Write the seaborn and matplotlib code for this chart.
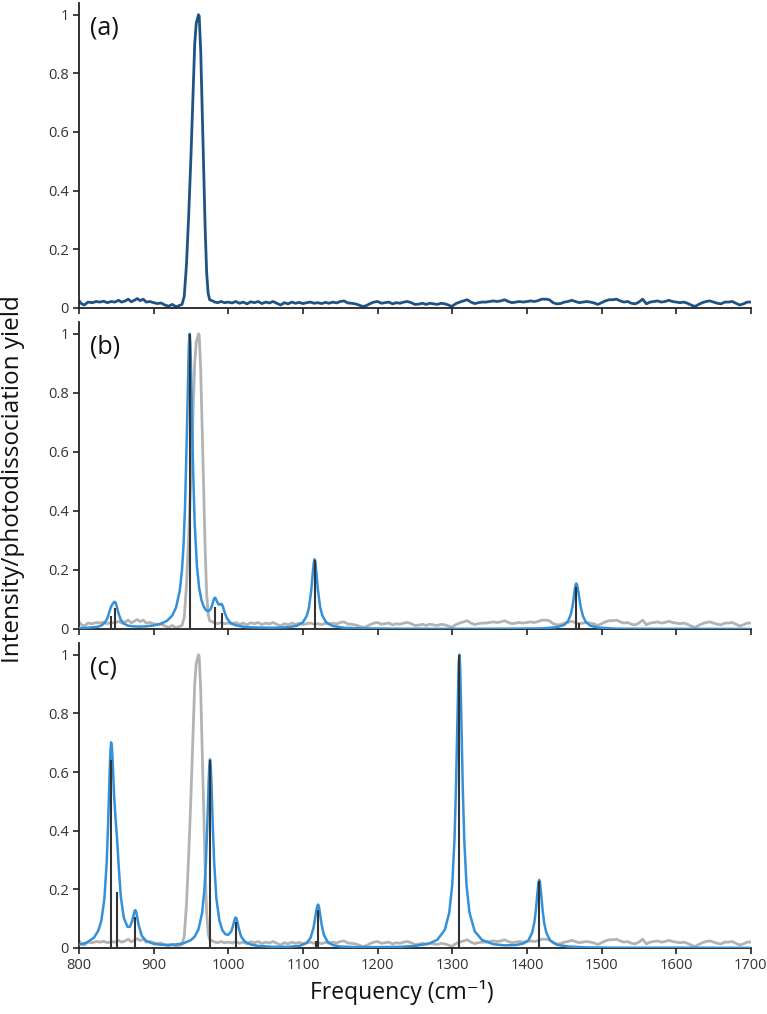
import numpy as np
import pandas as pd
import matplotlib
matplotlib.use("Agg")
import matplotlib.pyplot as plt
import seaborn as sns

sns.set_style("ticks")
plt.rcParams['font.family'] = ['Open Sans', 'DejaVu Sans']

exp_freq = [800, 803, 807, 812, 818, 823, 828, 833, 838, 843, 848, 853, 857, 862, 866, 870, 874, 878, 882, 886,
            890, 895, 900, 905, 910, 915, 920, 925, 930, 934, 938, 941, 944, 947, 950, 953, 955, 957, 958, 960,
            961, 963, 965, 967, 969, 971, 973, 975, 978, 982, 986, 990, 995, 1000, 1005, 1010, 1015, 1020, 1025, 1030,
            1035, 1040, 1045, 1050, 1055, 1060, 1065, 1070, 1075, 1080, 1085, 1090, 1095, 1100, 1105, 1110, 1115, 1120, 1125, 1130,
            1135, 1140, 1145, 1150, 1155, 1160, 1165, 1170, 1175, 1180, 1185, 1190, 1195, 1200, 1205, 1210, 1215, 1220, 1225, 1230,
            1235, 1240, 1245, 1250, 1255, 1260, 1265, 1270, 1275, 1280, 1285, 1290, 1295, 1299, 1305, 1310, 1315, 1320, 1325, 1330,
            1335, 1340, 1345, 1350, 1355, 1360, 1365, 1370, 1375, 1380, 1385, 1390, 1395, 1400, 1405, 1410, 1415, 1420, 1425, 1430,
            1435, 1440, 1445, 1450, 1455, 1460, 1465, 1470, 1475, 1480, 1485, 1490, 1495, 1500, 1505, 1510, 1515, 1520, 1525, 1530,
            1535, 1540, 1545, 1550, 1555, 1560, 1565, 1570, 1575, 1580, 1585, 1590, 1595, 1600, 1605, 1610, 1615, 1620, 1625, 1630,
            1635, 1640, 1645, 1650, 1655, 1660, 1665, 1670, 1675, 1680, 1685, 1690, 1695, 1700]
exp_int = [0.025, 0.015, 0.010, 0.020, 0.018, 0.022, 0.020, 0.023, 0.018, 0.022, 0.020, 0.026, 0.020, 0.024, 0.030, 0.021, 0.026, 0.032, 0.025, 0.030,
           0.020, 0.022, 0.018, 0.015, 0.017, 0.010, 0.006, 0.012, 0.004, 0.008, 0.012, 0.040, 0.150, 0.320, 0.520, 0.750, 0.900, 0.970, 0.980, 1.000,
           0.995, 0.880, 0.680, 0.470, 0.270, 0.120, 0.050, 0.028, 0.025, 0.020, 0.018, 0.022, 0.018, 0.020, 0.017, 0.022, 0.016, 0.020, 0.014, 0.021,
           0.018, 0.022, 0.015, 0.020, 0.017, 0.022, 0.016, 0.010, 0.018, 0.014, 0.020, 0.016, 0.019, 0.015, 0.018, 0.020, 0.016, 0.018, 0.015, 0.019,
           0.016, 0.020, 0.017, 0.022, 0.024, 0.017, 0.016, 0.014, 0.010, 0.005, 0.008, 0.015, 0.020, 0.022, 0.016, 0.018, 0.020, 0.014, 0.018, 0.016,
           0.020, 0.022, 0.018, 0.012, 0.013, 0.016, 0.012, 0.016, 0.014, 0.012, 0.016, 0.014, 0.010, 0.005, 0.015, 0.020, 0.024, 0.028, 0.020, 0.015,
           0.018, 0.020, 0.020, 0.022, 0.024, 0.022, 0.024, 0.028, 0.022, 0.018, 0.020, 0.022, 0.020, 0.022, 0.024, 0.022, 0.025, 0.030, 0.030, 0.028,
           0.018, 0.014, 0.015, 0.020, 0.022, 0.026, 0.022, 0.018, 0.020, 0.022, 0.020, 0.017, 0.012, 0.018, 0.024, 0.028, 0.028, 0.030, 0.024, 0.020,
           0.022, 0.016, 0.014, 0.020, 0.030, 0.014, 0.020, 0.022, 0.024, 0.020, 0.022, 0.026, 0.022, 0.020, 0.018, 0.020, 0.016, 0.010, 0.005, 0.012,
           0.018, 0.022, 0.024, 0.020, 0.016, 0.014, 0.020, 0.020, 0.022, 0.016, 0.010, 0.014, 0.020, 0.020]

# (b) computed spectrum: sticks and broadened envelope
b_stick_freq = [843, 848.7, 948.2, 982, 991.5, 1115.6, 1466, 1470]
b_stick_int = [0.044, 0.07, 1.0, 0.073, 0.054, 0.235, 0.142, 0.02]
b_freq = [800, 810, 820, 826, 830, 834, 837, 839, 841, 843, 845, 847.3, 849, 851, 853, 856, 860, 866, 873, 880,
          890, 900, 910, 918, 925, 930, 935, 938, 940, 942, 944, 945.5, 946.5, 947.2, 948.2, 949.2, 950, 951, 953, 955,
          958, 961, 964, 967, 970, 973, 976, 978, 980, 981, 982, 983, 985, 987, 989, 990.5, 991.5, 993, 995, 998,
          1002, 1008, 1015, 1025, 1040, 1060, 1080, 1092, 1100, 1105, 1108, 1111, 1113, 1114.6, 1115.6, 1116.6, 1118, 1120, 1123, 1126,
          1131, 1140, 1155, 1180, 1220, 1300, 1380, 1420, 1440, 1450, 1455, 1459, 1461.5, 1463.5, 1465, 1466, 1467, 1468.5, 1470, 1472,
          1475, 1479, 1485, 1495, 1520, 1600, 1700]
b_int = [0.003, 0.004, 0.006, 0.008, 0.012, 0.020, 0.031, 0.044, 0.061, 0.076, 0.085, 0.092, 0.090, 0.073, 0.052, 0.031, 0.018, 0.011, 0.009, 0.008,
         0.009, 0.012, 0.018, 0.028, 0.046, 0.073, 0.130, 0.201, 0.282, 0.411, 0.611, 0.775, 0.897, 0.963, 1.000, 0.965, 0.888, 0.764, 0.523, 0.355,
         0.212, 0.138, 0.098, 0.076, 0.064, 0.060, 0.066, 0.078, 0.096, 0.103, 0.106, 0.104, 0.092, 0.083, 0.083, 0.085, 0.083, 0.074, 0.057, 0.037,
         0.023, 0.014, 0.010, 0.006, 0.005, 0.004, 0.006, 0.011, 0.023, 0.044, 0.072, 0.128, 0.186, 0.227, 0.236, 0.227, 0.191, 0.133, 0.074, 0.045,
         0.023, 0.010, 0.004, 0.002, 0.001, 0.0005, 0.001, 0.002, 0.006, 0.014, 0.026, 0.051, 0.084, 0.121, 0.147, 0.154, 0.151, 0.132, 0.107, 0.075,
         0.044, 0.023, 0.011, 0.005, 0.001, 0.0005, 0.0002]

# (c) computed spectrum: sticks and broadened envelope
c_stick_freq = [843, 850.5, 875.5, 975.5, 1010, 1117, 1120.5, 1309.5, 1416.5]
c_stick_int = [0.64, 0.19, 0.105, 0.64, 0.09, 0.025, 0.13, 1.0, 0.23]
c_freq = [800, 810, 820, 826, 830, 834, 837, 839, 841, 842, 843, 844, 845, 847, 849, 851, 853, 856, 860, 865,
          868, 871, 873, 874.5, 875.5, 876.5, 878, 880, 884, 890, 900, 910, 920, 930, 940, 950, 955, 960, 965, 968,
          970, 972, 973.5, 974.5, 975.5, 976.5, 977.5, 979, 981, 984, 988, 992, 996, 1000, 1004, 1006, 1008, 1009, 1010, 1011,
          1012, 1014, 1017, 1022, 1030, 1040, 1060, 1080, 1095, 1105, 1110, 1114, 1116, 1118, 1119.5, 1120.5, 1121.5, 1123, 1125, 1128,
          1133, 1140, 1150, 1170, 1200, 1230, 1250, 1270, 1280, 1290, 1296, 1300, 1303, 1305, 1306.5, 1307.5, 1308.5, 1309.5, 1310.5, 1311.5,
          1312.5, 1314, 1316, 1319, 1323, 1330, 1340, 1355, 1370, 1385, 1395, 1402, 1407, 1410, 1412, 1414, 1415.5, 1416.5, 1417.5, 1419,
          1421, 1423, 1426, 1431, 1440, 1455, 1480, 1520, 1600, 1700]
c_int = [0.011, 0.018, 0.035, 0.060, 0.094, 0.168, 0.287, 0.422, 0.595, 0.666, 0.701, 0.688, 0.641, 0.521, 0.439, 0.372, 0.285, 0.175, 0.103, 0.072,
         0.072, 0.090, 0.111, 0.126, 0.129, 0.124, 0.104, 0.077, 0.042, 0.024, 0.014, 0.011, 0.011, 0.012, 0.016, 0.027, 0.039, 0.063, 0.121, 0.200,
         0.293, 0.432, 0.555, 0.618, 0.643, 0.618, 0.555, 0.432, 0.294, 0.169, 0.094, 0.061, 0.047, 0.045, 0.057, 0.073, 0.093, 0.102, 0.104, 0.100,
         0.090, 0.067, 0.040, 0.022, 0.012, 0.007, 0.004, 0.004, 0.007, 0.017, 0.034, 0.067, 0.097, 0.129, 0.146, 0.148, 0.140, 0.115, 0.080, 0.045,
         0.021, 0.010, 0.005, 0.003, 0.003, 0.004, 0.007, 0.016, 0.028, 0.062, 0.121, 0.217, 0.372, 0.552, 0.735, 0.862, 0.962, 1.000, 0.962, 0.862,
         0.735, 0.552, 0.372, 0.217, 0.121, 0.057, 0.027, 0.013, 0.009, 0.010, 0.015, 0.026, 0.052, 0.088, 0.129, 0.186, 0.223, 0.232, 0.223, 0.186,
         0.129, 0.087, 0.052, 0.026, 0.011, 0.005, 0.002, 0.001, 0.001, 0.0005]

panel_labels = ['(a)', '(b)', '(c)']
x_ticks = [800, 900, 1000, 1100, 1200, 1300, 1400, 1500, 1600, 1700]
y_ticks = [0, 0.2, 0.4, 0.6, 0.8, 1]
y_ticklabels = ['0', '0.2', '0.4', '0.6', '0.8', '1']

exp_df = pd.DataFrame({'freq': exp_freq, 'int': exp_int})
b_df = pd.DataFrame({'freq': b_freq, 'int': b_int})
c_df = pd.DataFrame({'freq': c_freq, 'int': c_int})

dark_blue = '#1f5285'
calc_blue = '#3390d9'
grey = '#b3b3b3'
stick_col = '#333333'

fig = plt.figure(figsize=(7.67, 10.14), dpi=100)
left, width = 0.103, 0.876
bottoms = [0.6963, 0.3797, 0.0651]
heights = [0.3008, 0.3028, 0.3008]
axes = [fig.add_axes([left, b, width, h]) for b, h in zip(bottoms, heights)]

# (a) experiment only
sns.lineplot(data=exp_df, x='freq', y='int', ax=axes[0], color=dark_blue, lw=2, estimator=None)

# (b) and (c): experiment in grey, calculation in blue with sticks
for ax, df, sf, si in [(axes[1], b_df, b_stick_freq, b_stick_int),
                       (axes[2], c_df, c_stick_freq, c_stick_int)]:
    sns.lineplot(data=exp_df, x='freq', y='int', ax=ax, color=grey, lw=2, estimator=None, zorder=2)
    sns.lineplot(data=df, x='freq', y='int', ax=ax, color=calc_blue, lw=1.8, estimator=None, zorder=3)
    ax.vlines(sf, 0, si, color=stick_col, lw=1.5, zorder=4)

for i, ax in enumerate(axes):
    ax.set_xlim(800, 1700)
    ax.set_ylim(0, 1.04)
    ax.set_xticks(x_ticks)
    ax.set_yticks(y_ticks)
    ax.set_yticklabels(y_ticklabels)
    ax.set_xlabel('')
    ax.set_ylabel('')
    sns.despine(ax=ax)
    for s in ['left', 'bottom']:
        ax.spines[s].set_linewidth(1.3)
        ax.spines[s].set_color('#222222')
    ax.tick_params(axis='both', direction='out', length=4, width=1.2, color='#222222',
                   labelsize=10.5, labelcolor='#333333')
    if i < 2:
        ax.tick_params(axis='x', labelbottom=False)
    ax.text(0.016, 0.918, panel_labels[i], transform=ax.transAxes, fontsize=18,
            ha='left', va='center', color='#111111')

axes[2].set_xlabel('Frequency (cm\u207b\u00b9)', fontsize=16.5, color='#111111')
axes[2].xaxis.set_label_coords(0.48, -0.105)
fig.text(0.017, 0.528, 'Intensity/photodissociation yield', rotation=90, fontsize=17.5,
         ha='center', va='center', color='#111111')

fig.savefig('out.png', dpi=100)
